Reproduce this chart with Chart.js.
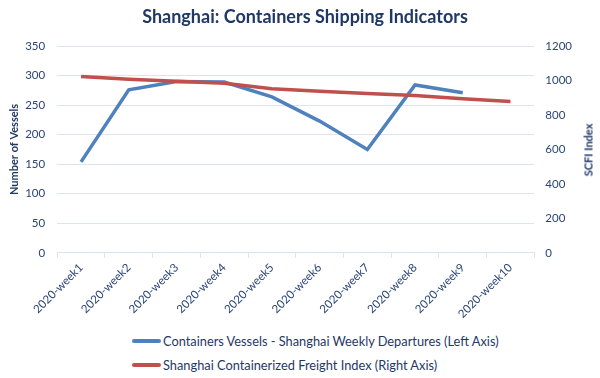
<!DOCTYPE html>
<html lang="en">
    <head>
        <meta charset="UTF-8" />
        <title>Shanghai Containers Shipping Indicators</title>
        <script src="https://cdn.jsdelivr.net/npm/chart.js@4"></script>
    </head>
    <body>
        <style>
            * {
                padding: 0;
                margin: 0;
                box-sizing: border-box;
            }

            body {
                width: 600px;
                height: 378px;
                background: white;
                font-family: Lato, sans-serif;
                position: relative;
                overflow: hidden;
            }

            .chart-container {
                width: 600px;
                height: 326px;
            }

            .title {
                position: absolute;
                left: 305px;
                top: 5px;
                transform: translateX(-50%);
                white-space: nowrap;
                color: #1f3864;
                font-size: 18px;
                font-weight: bold;
            }

            .legend {
                position: absolute;
                left: 132px;
                top: 329px;
                color: #1f3864;
                font-size: 12.8px;
            }

            .legend div {
                height: 24px;
                display: flex;
                align-items: center;
            }

            .legend span.swatch {
                display: inline-block;
                width: 29px;
                height: 4px;
                margin-right: 2px;
                border-radius: 2px;
            }

            .right-title {
                position: absolute;
                left: 588px;
                top: 150px;
                transform: translate(-50%, -50%) rotate(-90deg);
                white-space: nowrap;
                color: #1f3864;
                font-size: 11px;
                font-weight: bold;
            }
        </style>

        <div class="title">Shanghai: Containers Shipping Indicators</div>
        <div class="chart-container">
            <canvas id="shippingChart"></canvas>
        </div>
        <div class="right-title">SCFI Index</div>
        <div class="legend" id="legend"></div>

        <script>
            const weeks = [
                "2020-week1", "2020-week2", "2020-week3", "2020-week4", "2020-week5",
                "2020-week6", "2020-week7", "2020-week8", "2020-week9", "2020-week10",
            ];
            const vessels = [154, 276, 290, 289, 264, 223, 175, 284, 271, null];
            const scfi = [1023, 1007, 995, 984, 952, 937, 925, 913, 894, 878];
            const seriesNames = [
                "Containers Vessels - Shanghai Weekly Departures (Left Axis)",
                "Shanghai Containerized Freight Index (Right Axis)",
            ];
            const seriesColors = ["#4f81bd", "#c0504d"];

            const textColor = "#1f3864";
            const tickColor = "#2a4576";
            const gridColor = "#dbe5f1";

            const ctx = document.getElementById("shippingChart").getContext("2d");
            const chart = new Chart(ctx, {
                type: "line",
                data: {
                    labels: weeks,
                    datasets: [
                        {
                            label: seriesNames[0],
                            data: vessels,
                            borderColor: seriesColors[0],
                            borderWidth: 3.5,
                            pointRadius: 0,
                            yAxisID: "y",
                            order: 2,
                        },
                        {
                            label: seriesNames[1],
                            data: scfi,
                            borderColor: seriesColors[1],
                            borderWidth: 3.5,
                            pointRadius: 0,
                            yAxisID: "y1",
                            order: 1,
                        },
                    ],
                },
                options: {
                    animation: false,
                    responsive: true,
                    maintainAspectRatio: false,
                    layout: {
                        padding: { left: 5, right: 26, top: 46, bottom: 2 },
                    },
                    plugins: {
                        legend: { display: false },
                        tooltip: { enabled: false },
                    },
                    scales: {
                        x: {
                            offset: true,
                            grid: {
                                offset: true,
                                drawOnChartArea: false,
                                color: gridColor,
                                tickLength: 5,
                            },
                            border: { color: gridColor },
                            ticks: {
                                color: tickColor,
                                font: { family: "Lato", size: 11.5 },
                                maxRotation: 45,
                                minRotation: 45,
                                padding: 3,
                            },
                        },
                        y: {
                            position: "left",
                            min: 0,
                            max: 350,
                            ticks: {
                                stepSize: 50,
                                color: tickColor,
                                font: { family: "Lato", size: 11.5 },
                                padding: 12,
                            },
                            grid: { color: gridColor, drawTicks: false },
                            border: { display: false },
                            title: {
                                display: true,
                                text: "Number of Vessels",
                                color: textColor,
                                font: { family: "Lato", size: 11, weight: "bold" },
                                padding: 3,
                            },
                            // tick padding is counted twice in the width; drop the outer half
                            afterFit: (scale) => {
                                scale.width -= 11;
                            },
                        },
                        y1: {
                            position: "right",
                            min: 0,
                            max: 1200,
                            ticks: {
                                stepSize: 200,
                                color: tickColor,
                                font: { family: "Lato", size: 11.5 },
                                padding: 11,
                                callback: (value) => String(value),
                            },
                            grid: { display: false, drawTicks: false },
                            border: { display: false },
                            afterFit: (scale) => {
                                scale.width -= 9;
                            },
                        },
                    },
                },
            });

            const legend = document.getElementById("legend");
            seriesNames.forEach((name, i) => {
                const row = document.createElement("div");
                const sw = document.createElement("span");
                sw.className = "swatch";
                sw.style.background = seriesColors[i];
                row.appendChild(sw);
                row.appendChild(document.createTextNode(name));
                legend.appendChild(row);
            });
        </script>
    </body>
</html>
